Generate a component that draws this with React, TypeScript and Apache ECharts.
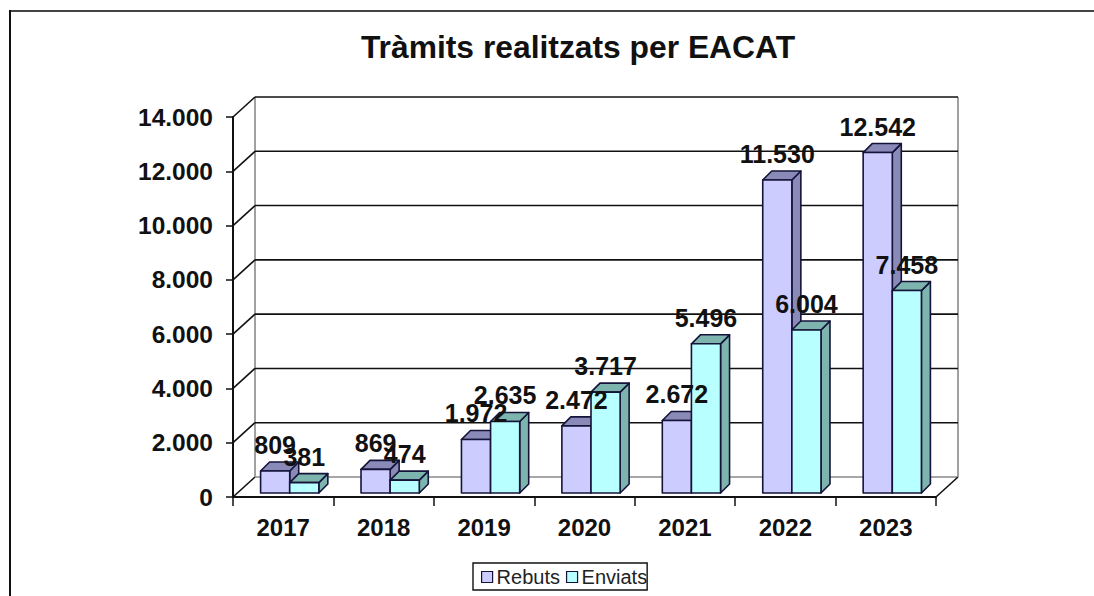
import React, { useEffect, useRef } from "react";
import * as echarts from "echarts";

const years = ["2017", "2018", "2019", "2020", "2021", "2022", "2023"];
const rebuts = [809, 869, 1972, 2472, 2672, 11530, 12542];
const enviats = [381, 474, 2635, 3717, 5496, 6004, 7458];
const ticks = [0, 2000, 4000, 6000, 8000, 10000, 12000, 14000];

const FONT = '"Liberation Sans", Arial, sans-serif';
const fmt = (v: number) => String(v).replace(/\B(?=(\d{3})+$)/g, ".");

const WALL_DX = 22;
const WALL_DY = 20;

const barRender = (slot: 0 | 1, face: string, shade: string) => (params: any, api: any) => {
  const idx = api.value(0);
  const val = api.value(1);
  const [cx, y0] = api.coord([idx, 0]);
  const [, yTop] = api.coord([idx, val]);
  const band = api.size([1, 0])[0];
  const w = band * 0.29;
  const off = 6.5;
  const x = cx + off - w + slot * w;
  const lift = 4;
  const yb = y0 - lift;
  const yt = yTop - lift;
  const d = 9;
  const stroke = "#14143a";
  const st = (fill: string) => ({ fill, stroke, lineWidth: 1.6, lineJoin: "round" });
  return {
    type: "group",
    children: [
      { type: "polygon", shape: { points: [[x + w, yt], [x + w + d, yt - d], [x + w + d, yb - d], [x + w, yb]] }, style: st(shade) },
      { type: "polygon", shape: { points: [[x, yt], [x + w, yt], [x + w + d, yt - d], [x + d, yt - d]] }, style: st(shade) },
      { type: "rect", shape: { x, y: yt, width: w, height: yb - yt }, style: st(face) },
    ],
  };
};

const labelRender = (slot: 0 | 1) => (params: any, api: any) => {
  const idx = api.value(0);
  const val = api.value(1);
  const [cx] = api.coord([idx, 0]);
  const [, yTop] = api.coord([idx, val]);
  const w = api.size([1, 0])[0] * 0.29;
  const x = cx + 6.5 - w + slot * w + w / 2;
  return {
    type: "text",
    x,
    y: yTop - 4 - 26,
    style: {
      text: fmt(val),
      font: `bold 25px ${FONT}`,
      fill: "#111",
      align: "center",
      verticalAlign: "middle",
    },
  };
};

const wallRender = (params: any, api: any) => {
  const v = api.value(1);
  const cs = params.coordSys;
  const [, y] = api.coord([0, v]);
  const left = cs.x;
  const right = cs.x + cs.width;
  const isFloor = v === 0;
  const children: any[] = [
    { type: "line", shape: { x1: left, y1: y, x2: left + WALL_DX, y2: y - WALL_DY }, style: { stroke: "#111", lineWidth: 1.6 } },
    { type: "line", shape: { x1: left + WALL_DX, y1: y - WALL_DY, x2: right + WALL_DX, y2: y - WALL_DY }, style: { stroke: isFloor ? "#8a8a8a" : "#111", lineWidth: 1.6 } },
  ];
  if (isFloor) {
    children.push(
      { type: "line", shape: { x1: right, y1: y, x2: right + WALL_DX, y2: y - WALL_DY }, style: { stroke: "#111", lineWidth: 1.6 } },
      { type: "line", shape: { x1: left + WALL_DX, y1: cs.y - WALL_DY, x2: left + WALL_DX, y2: y - WALL_DY }, style: { stroke: "#8a8a8a", lineWidth: 1.6 } },
      { type: "line", shape: { x1: right + WALL_DX, y1: cs.y - WALL_DY, x2: right + WALL_DX, y2: y - WALL_DY }, style: { stroke: "#8a8a8a", lineWidth: 1.6 } }
    );
  }
  return { type: "group", children };
};

export default function App() {
  const ref = useRef<HTMLDivElement>(null);
  useEffect(() => {
    const chart = echarts.init(ref.current!, null, { renderer: "svg" });
    chart.setOption({
      animation: false,
      backgroundColor: "#fff",
      title: {
        text: "Tràmits realitzats per EACAT",
        left: 573,
        top: 26,
        textAlign: "center",
        textStyle: { fontFamily: FONT, fontWeight: "bold", fontSize: 31.8, color: "#111" },
      },
      legend: {
        data: ["Rebuts", "Enviats"],
        left: 473,
        top: 563,
        orient: "horizontal",
        padding: [4, 0, 3, 8],
        itemGap: 6,
        itemWidth: 11,
        itemHeight: 11,
        icon: "rect",
        borderColor: "#111",
        borderWidth: 1.4,
        backgroundColor: "#fff",
        selectedMode: false,
        itemStyle: { borderColor: "#14143a", borderWidth: 1.2 },
        textStyle: { fontFamily: FONT, fontSize: 20, color: "#222", padding: [0, 0, 0, -1] },
      },
      grid: { left: 233, right: 158, top: 117, bottom: 99 },
      xAxis: {
        type: "category",
        data: years,
        axisLine: { lineStyle: { color: "#111", width: 2 } },
        axisTick: { show: true, alignWithLabel: false, length: 9, lineStyle: { color: "#111", width: 1.5 } },
        axisLabel: { margin: 18, fontFamily: FONT, fontWeight: "bold", fontSize: 24, color: "#111" },
      },
      yAxis: {
        type: "value",
        min: 0,
        max: 14000,
        interval: 2000,
        axisLine: { show: true, lineStyle: { color: "#111", width: 2 } },
        axisTick: { show: true, length: 7, lineStyle: { color: "#111", width: 1.5 } },
        splitLine: { show: false },
        axisLabel: {
          margin: 20,
          fontFamily: FONT,
          fontWeight: "bold",
          fontSize: 24.5,
          color: "#111",
          formatter: (v: number) => fmt(v),
        },
      },
      graphic: [
        { type: "line", silent: true, shape: { x1: 10, y1: 11, x2: 1094, y2: 11 }, style: { stroke: "#444", lineWidth: 2 } },
        { type: "line", silent: true, shape: { x1: 10, y1: 10, x2: 10, y2: 596 }, style: { stroke: "#111", lineWidth: 2 } },
      ],
      series: [
        {
          type: "custom",
          name: "walls",
          z: 1,
          renderItem: wallRender,
          data: ticks.map((t) => [0, t]),
          encode: { x: 0, y: 1 },
          silent: true,
        },
        {
          type: "custom",
          name: "Rebuts",
          z: 3,
          itemStyle: { color: "#CCCCFF" },
          renderItem: barRender(0, "#CCCCFF", "#8A8AB8"),
          data: rebuts.map((v, i) => [i, v]),
          encode: { x: 0, y: 1 },
        },
        {
          type: "custom",
          name: "Enviats",
          z: 4,
          itemStyle: { color: "#B8FFFF" },
          renderItem: barRender(1, "#B8FFFF", "#7DB5AE"),
          data: enviats.map((v, i) => [i, v]),
          encode: { x: 0, y: 1 },
        },
        {
          type: "custom",
          name: "labelsRebuts",
          z: 6,
          renderItem: labelRender(0),
          data: rebuts.map((v, i) => [i, v]),
          encode: { x: 0, y: 1 },
        },
        {
          type: "custom",
          name: "labelsEnviats",
          z: 7,
          renderItem: labelRender(1),
          data: enviats.map((v, i) => [i, v]),
          encode: { x: 0, y: 1 },
        },
      ],
    });
    return () => chart.dispose();
  }, []);
  return <div ref={ref} style={{ position: "absolute", left: 0, top: 0, width: 1094, height: 596 }} />;
}
